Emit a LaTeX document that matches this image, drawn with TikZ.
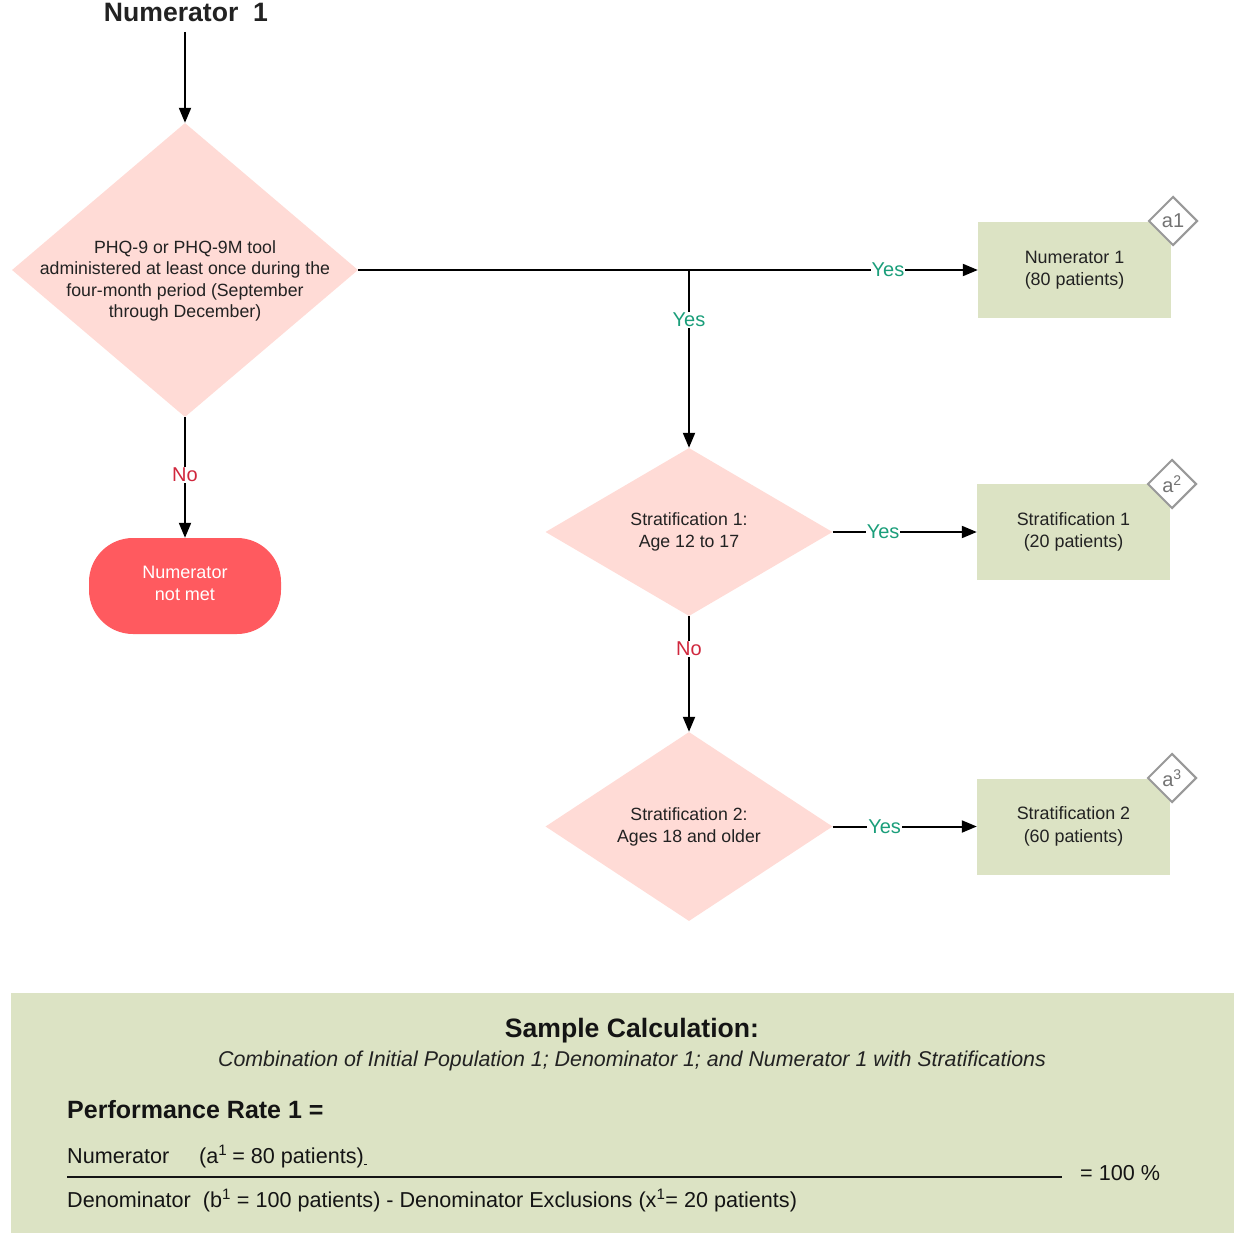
\documentclass[tikz,border=0pt]{standalone}
\usepackage{fontspec}
\setmainfont{Liberation Sans}
\usetikzlibrary{shapes.geometric,arrows.meta}
\definecolor{dpink}{HTML}{FFDBD6}
\definecolor{boxgreen}{HTML}{DCE3C4}
\definecolor{redterm}{HTML}{FF5A5F}
\definecolor{yesgreen}{HTML}{1A9E7A}
\definecolor{nored}{HTML}{D0273D}
\definecolor{taggray}{HTML}{999999}
\definecolor{inkc}{HTML}{222222}
\begin{document}
\begin{tikzpicture}[x=1pt,y=-1pt,
  arr/.style={line width=2pt, -{Triangle[length=15pt,width=12pt]}},
  dia/.style={diamond, fill=dpink, inner sep=0pt},
  txt/.style={align=center, font=\fontsize{17.7}{21.5}\selectfont, text=inkc},
  gbox/.style={rectangle, fill=boxgreen, minimum width=193pt, minimum height=96pt, align=center, text=inkc, font=\fontsize{17.9}{22.5}\selectfont},
  tagd/.style={diamond, draw=taggray, line width=2pt, fill=white, minimum width=49pt, minimum height=49pt, inner sep=0pt, text=black!55, font=\fontsize{20}{20}\selectfont},
  yes/.style={fill=white, text=yesgreen, inner sep=1pt, font=\fontsize{20}{20}\selectfont},
  no/.style={fill=white, text=nored, inner sep=1pt, font=\fontsize{20}{20}\selectfont},
  calc/.style={anchor=base west, inner sep=0pt, text=black!92, font=\fontsize{21.6}{24}\selectfont}]

\useasboundingbox (0,0) rectangle (1234,1233);
\fill[white] (0,0) rectangle (1234,1233);

% title
\node[font=\bfseries\fontsize{26.6}{26.6}\selectfont, text=inkc] (title) at (186,12) {Numerator\ \ 1};

% shapes
\node[dia, minimum width=346pt, minimum height=294pt] (d1) at (185,270) {};
\node[txt] (d1t) at (185,281) {PHQ-9 or PHQ-9M tool\\administered at least once during the\\four-month period (September\\through December)};

\node[dia, minimum width=287pt, minimum height=168pt] (d2) at (689,532) {};
\node[txt] (d2t) at (689,532) {Stratification 1:\\Age 12 to 17};

\node[dia, minimum width=287pt, minimum height=189pt] (d3) at (689,826.5) {};
\node[txt] (d3t) at (689,827) {Stratification 2:\\Ages 18 and older};

\node[gbox] (n1) at (1074.5,270) {Numerator 1\\(80 patients)};
\node[gbox] (s1) at (1073.5,532) {Stratification 1\\(20 patients)};
\node[gbox] (s2) at (1073.5,826.5) {Stratification 2\\(60 patients)};

\node[tagd] (t1) at (1173,221) {a1};
\node[tagd] (t2) at (1172,484) {a\textsuperscript{2}};
\node[tagd] (t3) at (1172,778) {a\textsuperscript{3}};

\node[rectangle, rounded corners=44pt, fill=redterm, minimum width=192pt, minimum height=96pt] (nm) at (185,586) {};
\node[align=center, text=white, font=\fontsize{18}{22.5}\selectfont] (nmt) at (185,583.5) {Numerator\\not met};

% connectors
\draw[arr] (title.south -| d1.north) ++(0,7) -- (d1.north);
\coordinate (br) at (689,270);
\draw[arr] (d1.east) -- node[yes, pos=0.855] {Yes} (n1.west);
\draw[arr] (br) -- node[yes, pos=0.28] {Yes} (d2.north);
\draw[arr] (d1.south) -- node[no, pos=0.48] {No} (nm.north);
\draw[arr] (d2.east) -- node[yes, pos=0.35] {Yes} (d2.east -| s1.west);
\draw[arr] (d2.south) -- node[no, pos=0.28] {No} (d3.north);
\draw[arr] (d3.east) -- node[yes, pos=0.36] {Yes} (d3.east -| s2.west);

% calculation panel
\fill[boxgreen] (11,993) rectangle (1234,1233);
\node[font=\bfseries\fontsize{26.6}{26.6}\selectfont, text=black!92] (sc) at (632,1031) {Sample Calculation:};
\node[font=\itshape\fontsize{21.4}{21.4}\selectfont, text=inkc] (sub) at (632,1061) {Combination of Initial Population 1; Denominator 1; and Numerator 1 with Stratifications};
\node[anchor=west, inner sep=0pt, font=\bfseries\fontsize{25}{25}\selectfont, text=black!92] (pr) at (67,1110) {Performance Rate 1 =};
\node[calc] (num) at (67,1163) {Numerator\hspace{30pt}(a\textsuperscript{1}\hspace{-1pt} = 80 patients)\underline{\hspace{3pt}}};
\draw[line width=2.5pt, black!92] (67,1177) -- (1062,1177);
\node[calc] (eq) at (1080,1180) {= 100 \%};
\node[calc] (den) at (67,1207) {Denominator\ \ (b\textsuperscript{1} = 100 patients) - Denominator Exclusions (x\textsuperscript{1}= 20 patients)};
\end{tikzpicture}
\end{document}
